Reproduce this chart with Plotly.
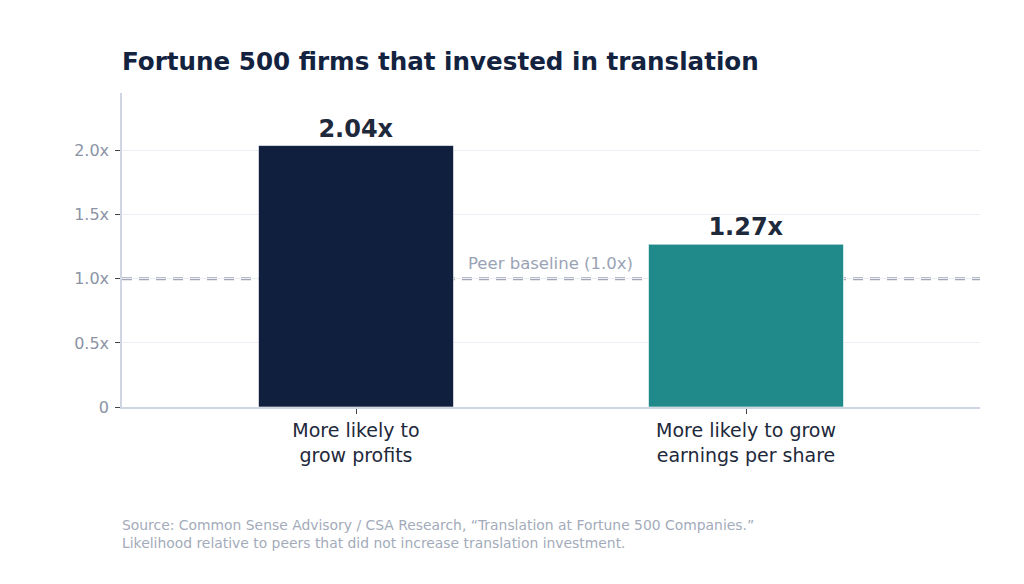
import plotly.graph_objects as go

categories = ["More likely to<br>grow profits", "More likely to grow<br>earnings per share"]
values = [2.04, 1.27]
value_labels = ["2.04x", "1.27x"]
bar_colors = ["#0f1f3d", "#1f8a89"]
baseline = 1.0
tick_vals = [0, 0.5, 1.0, 1.5, 2.0]
tick_text = ["0", "0.5x", "1.0x", "1.5x", "2.0x"]

fig = go.Figure()
fig.add_trace(go.Bar(
    x=categories,
    y=values,
    width=0.5,
    marker=dict(color=bar_colors, line=dict(color="rgba(255,255,255,0.6)", width=1)),
    text=value_labels,
    textposition="outside",
    textfont=dict(size=24, color="#1e293b", family="DejaVu Sans"),
    texttemplate="<b>%{text}</b>",
    cliponaxis=False,
    showlegend=False,
))

fig.add_shape(type="line", xref="paper", x0=0, x1=1, yref="y", y0=baseline, y1=baseline,
              line=dict(color="#a0a6b5", width=3, dash="10px,7px"), layer="between")
fig.add_annotation(x=0.75, y=baseline, xref="x", yref="y", text="Peer baseline (1.0x)",
                   showarrow=False, xanchor="right", yanchor="bottom", xshift=-14, yshift=4,
                   font=dict(size=16.5, color="#9aa3b5"))

fig.add_annotation(xref="paper", yref="paper", x=0, y=-0.345, xanchor="left", yanchor="top",
                   xshift=-2, align="left", showarrow=False,
                   text="Source: Common Sense Advisory / CSA Research, “Translation at Fortune 500 Companies.”"
                        "<br>Likelihood relative to peers that did not increase translation investment.",
                   font=dict(size=13.9, color="#a3abba"))

# page adds an 8px body margin, so the figure is 8px smaller and margins shifted
fig.update_layout(
    width=1016, height=576,
    paper_bgcolor="white", plot_bgcolor="white",
    font=dict(family="DejaVu Sans"),
    margin=dict(l=114, r=44, t=85, b=177),
    title=dict(text="<b>Fortune 500 firms that invested in translation</b>",
               x=114 / 1016, xanchor="left", y=1 - 53 / 576, yanchor="middle",
               font=dict(size=24.6, color="#13233f")),
    bargap=0.5,
)
fig.update_xaxes(range=[-0.6, 1.6], showline=True, linecolor="#cfd5e2", linewidth=2,
                 ticks="outside", ticklen=5, tickcolor="#444", showgrid=False,
                 tickfont=dict(size=19, color="#1e293b"))
fig.update_yaxes(range=[0, 2.45], tickvals=tick_vals, ticktext=tick_text,
                 showline=True, linecolor="#cfd5e2", linewidth=1.5,
                 ticks="outside", ticklen=5, tickcolor="#444", ticklabelstandoff=3,
                 gridcolor="#eceef3", gridwidth=1, zeroline=False,
                 tickfont=dict(size=16, color="#8b93a5"))

fig.write_html("out.html")
